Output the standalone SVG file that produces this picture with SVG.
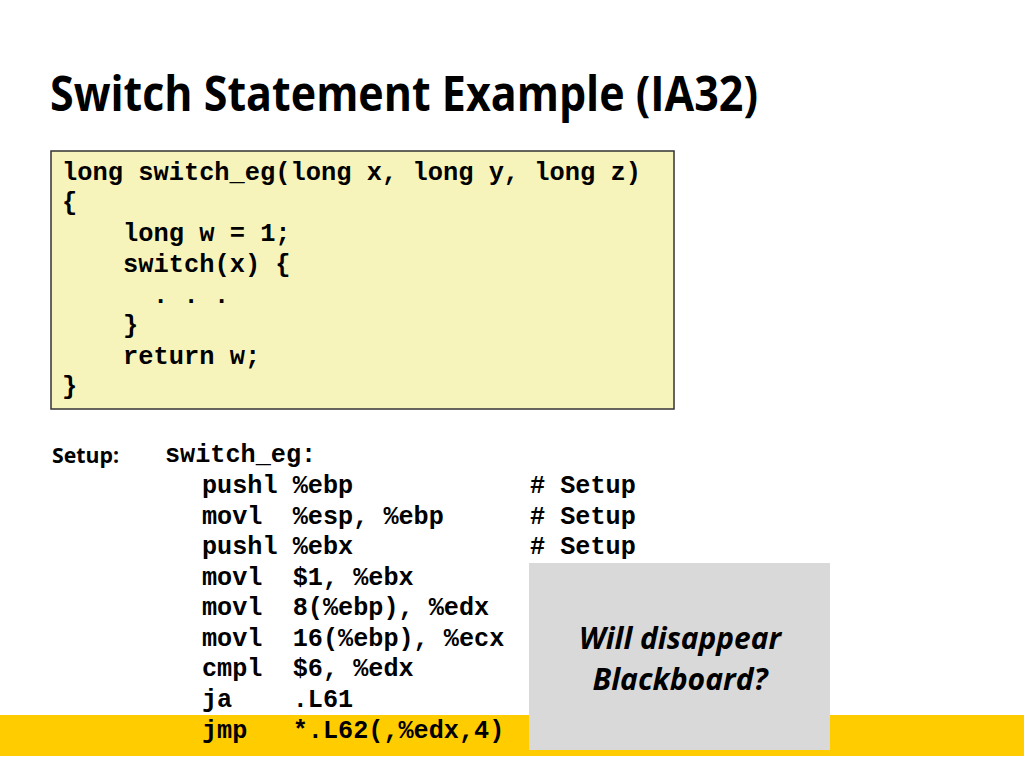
<svg xmlns="http://www.w3.org/2000/svg" width="1024" height="768" viewBox="0 0 1024 768">
<style>
.title{font-family:"Open Sans","Liberation Sans",sans-serif;font-weight:bold;font-size:49px;fill:#000}
.code{font-family:"Liberation Mono","DejaVu Sans Mono",monospace;font-weight:bold;font-size:25.4px;fill:#000;white-space:pre}
.asm{font-family:"Liberation Mono","DejaVu Sans Mono",monospace;font-weight:bold;font-size:25.2px;fill:#000;white-space:pre}
.label{font-family:"Open Sans","Liberation Sans",sans-serif;font-weight:bold;font-size:22px;fill:#000}
.note{font-family:"Open Sans","Liberation Sans",sans-serif;font-weight:bold;font-style:italic;font-size:30px;fill:#000}
</style>
<rect width="1024" height="768" fill="#fff"/>
<text class="title" x="50" y="111" textLength="708" lengthAdjust="spacingAndGlyphs">Switch Statement Example (IA32)</text>

<g id="c-code">
<rect x="51" y="151" width="623" height="258" fill="#F7F4BB" stroke="#333" stroke-width="1.5"/>
<text class="code" x="62" y="180">long switch_eg(long x, long y, long z)</text>
<text class="code" x="62" y="210">{</text>
<text class="code" x="123" y="241">long w = 1;</text>
<text class="code" x="123" y="272">switch(x) {</text>
<text class="code" x="153" y="303">. . .</text>
<text class="code" x="123" y="333">}</text>
<text class="code" x="123" y="364">return w;</text>
<text class="code" x="62" y="394">}</text>
</g>

<rect id="highlight" x="0" y="715" width="1024" height="41" fill="#FFCC00"/>

<g id="asm">
<text class="label" x="52" y="463" textLength="67" lengthAdjust="spacingAndGlyphs">Setup:</text>
<text class="asm" x="165" y="462">switch_eg:</text>
<text class="asm" x="202" y="493">pushl %ebp</text>
<text class="asm" x="202" y="524">movl  %esp, %ebp</text>
<text class="asm" x="202" y="554">pushl %ebx</text>
<text class="asm" x="202" y="585">movl  $1, %ebx</text>
<text class="asm" x="202" y="615">movl  8(%ebp), %edx</text>
<text class="asm" x="202" y="646">movl  16(%ebp), %ecx</text>
<text class="asm" x="202" y="676">cmpl  $6, %edx</text>
<text class="asm" x="202" y="707">ja    .L61</text>
<text class="asm" x="202" y="738">jmp   *.L62(,%edx,4)</text>
<text class="asm" x="530" y="493"># Setup</text>
<text class="asm" x="530" y="524"># Setup</text>
<text class="asm" x="530" y="554"># Setup</text>
</g>

<g id="note">
<rect x="529" y="563" width="301" height="187" fill="#D9D9D9"/>
<text class="note" x="680" y="649" text-anchor="middle" textLength="202" lengthAdjust="spacingAndGlyphs">Will disappear</text>
<text class="note" x="680" y="690" text-anchor="middle" textLength="175" lengthAdjust="spacingAndGlyphs">Blackboard?</text>
</g>
</svg>
